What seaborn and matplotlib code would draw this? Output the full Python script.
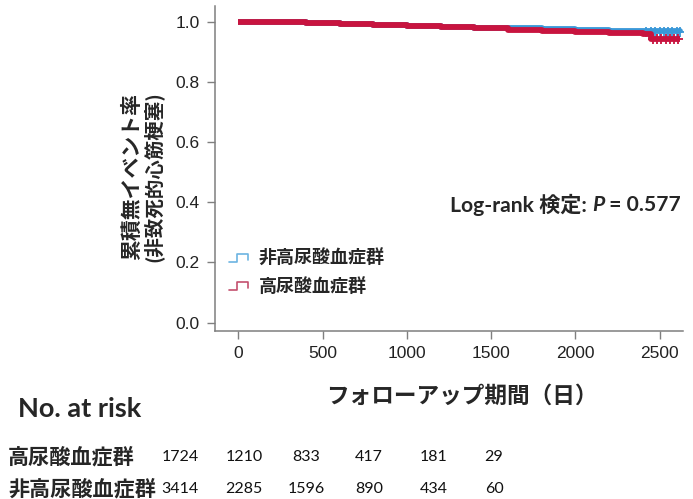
import numpy as np
import pandas as pd
import matplotlib
matplotlib.use("Agg")
import matplotlib.pyplot as plt
import seaborn as sns
from matplotlib import font_manager
from matplotlib.legend_handler import HandlerBase
from matplotlib.lines import Line2D

# Kaplan-Meier step estimates (time in days, survival free of non-fatal MI)
groups = ["非高尿酸血症群", "高尿酸血症群"]
t_non = [0, 200, 400, 600, 800, 1000, 1200, 1400, 1600, 1800, 2000, 2200, 2400, 2620]
s_non = [1.000, 0.997, 0.994, 0.991, 0.988, 0.985, 0.982, 0.980, 0.978, 0.976, 0.973, 0.970, 0.967, 0.964]
t_hyp = [0, 200, 400, 600, 800, 1000, 1200, 1400, 1600, 1800, 2000, 2200, 2400, 2450, 2620]
s_hyp = [1.000, 0.997, 0.994, 0.991, 0.988, 0.985, 0.981, 0.977, 0.973, 0.969, 0.966, 0.963, 0.958, 0.942, 0.942]

# Censoring marks in the sparse tail of follow-up
cens_non = [2420, 2450, 2475, 2500, 2525, 2550, 2575, 2600, 2620]
cens_hyp = [2460, 2485, 2510, 2535, 2560, 2585, 2610]

# Number at risk table
risk_times = [0, 500, 1000, 1500, 2000, 2500]
risk_hyp = [1724, 1210, 833, 417, 181, 29]
risk_non = [3414, 2285, 1596, 890, 434, 60]

logrank_p = 0.577
colors = {"非高尿酸血症群": "#3a98d8", "高尿酸血症群": "#c8143f"}
legend_colors = {"非高尿酸血症群": "#6cb4e2", "高尿酸血症群": "#c4506e"}

sns.set_style("ticks")
CJK = ["Noto Sans CJK JP", "DejaVu Sans"]
LAT = ["Lato", "Noto Sans CJK JP", "DejaVu Sans"]
plt.rcParams["font.family"] = ["Liberation Sans", "Noto Sans CJK JP", "DejaVu Sans"]

# narrow face for the risk counts when available
try:
    font_manager.findfont(font_manager.FontProperties(family="Liberation Sans Narrow"),
                          fallback_to_default=False)
    num_family, num_size = ["Liberation Sans Narrow", "DejaVu Sans"], 14
except ValueError:
    num_family, num_size = ["Lato", "DejaVu Sans"], 11.5

fig = plt.figure(figsize=(6.93, 4.99), dpi=100)
ax = fig.add_axes([0.310, 0.337, 0.676, 0.650])

df = pd.concat([
    pd.DataFrame({"time": t_non, "surv": s_non, "group": groups[0]}),
    pd.DataFrame({"time": t_hyp, "surv": s_hyp, "group": groups[1]}),
])
cens = pd.concat([
    pd.DataFrame({"time": cens_non, "surv": [s_non[-1]] * len(cens_non), "group": groups[0]}),
    pd.DataFrame({"time": cens_hyp, "surv": [s_hyp[-1]] * len(cens_hyp), "group": groups[1]}),
])

for g in groups:
    sub = df[df.group == g]
    sns.lineplot(data=sub, x="time", y="surv", ax=ax, color=colors[g],
                 drawstyle="steps-post", linewidth=4.2, estimator=None,
                 solid_capstyle="butt", legend=False)
for g in groups:
    sub = cens[cens.group == g]
    sns.scatterplot(data=sub, x="time", y="surv", ax=ax, color=colors[g],
                    marker="+", s=45, linewidth=1.3, legend=False)

ax.set_xlim(-140, 2640)
ax.set_ylim(-0.027, 1.05)
ax.set_xticks(risk_times)
ax.set_yticks([0.0, 0.2, 0.4, 0.6, 0.8, 1.0])
ax.set_yticklabels([f"{v:.1f}" for v in [0.0, 0.2, 0.4, 0.6, 0.8, 1.0]])
ax.tick_params(axis="both", labelsize=12.5, length=6, width=1, color="#7f7f7f",
               labelcolor="#222222", pad=5)
for side in ["left", "bottom"]:
    ax.spines[side].set_color("#7f7f7f")
    ax.spines[side].set_linewidth(1.1)
sns.despine(ax=ax)
ax.set_xlabel("")
ax.set_ylabel("")

# Axis titles
fig.text(0.667, 0.205, "フォローアップ期間（日）", ha="center", va="center",
         fontsize=16.3, fontweight="bold", family=CJK)
fig.text(0.190, 0.647, "累積無イベント率", rotation=90, ha="center", va="center",
         fontsize=15, fontweight="bold", family=CJK)
fig.text(0.221, 0.647, "(非致死的心筋梗塞)", rotation=90, ha="center", va="center",
         fontsize=14, fontweight="bold", family=CJK)


# Step-shaped legend keys
class StepHandler(HandlerBase):
    def create_artists(self, legend, orig_handle, xdescent, ydescent,
                       width, height, fontsize, trans):
        x0, x1 = -xdescent, -xdescent + width
        y0, y1 = -ydescent + height * 0.15, -ydescent + height * 0.75
        xm = x0 + width * 0.45
        xs = [x0, xm, xm, x1, x1]
        ys = [y0, y0, y1, y1, y0 + (y1 - y0) * 0.3]
        ln = Line2D(xs, ys, color=orig_handle.get_color(), lw=1.2, transform=trans)
        return [ln]


handles = [Line2D([], [], color=legend_colors[g]) for g in groups]
leg = ax.legend(handles, groups, loc="lower left", bbox_to_anchor=(-0.005, 0.058),
                frameon=False, handler_map={Line2D: StepHandler()},
                handlelength=1.05, handletextpad=0.6, labelspacing=0.5,
                prop={"family": CJK, "weight": "bold", "size": 13})

# Log-rank annotation with italic P
fig.canvas.draw()
renderer = fig.canvas.get_renderer()
x = 0.649
y = 0.589
t1 = fig.text(x, y, "Log-rank 検定: ", ha="left", va="center", fontsize=15.2,
              fontweight="bold", family=LAT)
bb = t1.get_window_extent(renderer).transformed(fig.transFigure.inverted())
t2 = fig.text(bb.x1, y, "P", ha="left", va="center", fontsize=15.2,
              fontweight="bold", style="italic", family=LAT)
bb2 = t2.get_window_extent(renderer).transformed(fig.transFigure.inverted())
fig.text(bb2.x1, y, f" = {logrank_p:.3f}", ha="left", va="center", fontsize=15.2,
         fontweight="bold", family=LAT)

# Number at risk table
fig.text(0.026, 0.181, "No. at risk", ha="left", va="center", fontsize=19.5,
         fontweight="bold", family=LAT)
col_x = [180, 244, 306, 369, 434, 494]
rows = [(groups[1], risk_hyp, 457), (groups[0], risk_non, 489)]
for label, vals, ypx in rows:
    yf = 1 - ypx / 499
    fig.text(8 / 693, yf, label, ha="left", va="center", fontsize=15.2,
             fontweight="bold", family=CJK)
    for cx, v in zip(col_x, vals):
        fig.text(cx / 693, yf, str(v), ha="center", va="center", fontsize=num_size,
                 family=num_family, color="#111111")

fig.savefig("out.png", dpi=100)
